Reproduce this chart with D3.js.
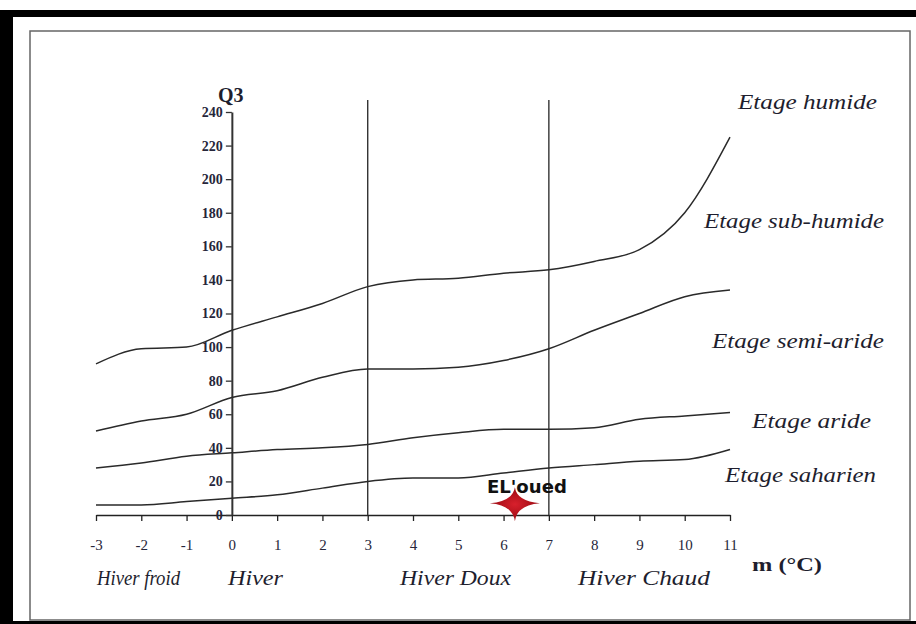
<!DOCTYPE html>
<html>
<head>
<meta charset="utf-8">
<script src="https://cdn.jsdelivr.net/npm/d3@7"></script>
<style>
  body { margin: 0; background: #fff; }
  svg { display: block; }
</style>
</head>
<body>
<svg id="drawing_region"></svg>
<script>
// m (°C) values where the boundary curves are read
const mValues = [-3, -2, -1, 0, 1, 2, 3, 4, 5, 6, 7, 8, 9, 10, 11];

// Q3 of each boundary curve (top to bottom)
const humideLimit    = [90, 99, 100, 110, 118, 126, 136, 140, 141, 144, 146, 151, 158, 180, 225];
const subHumideLimit = [50, 56, 60, 70, 74, 82, 87, 87, 88, 92, 99, 110, 120, 130, 134];
const semiArideLimit = [28, 31, 35, 37, 39, 40, 42, 46, 49, 51, 51, 52, 57, 59, 61];
const arideLimit     = [6, 6, 8, 10, 12, 16, 20, 22, 22, 25, 28, 30, 32, 33, 39];

const yTicks = [0, 20, 40, 60, 80, 100, 120, 140, 160, 180, 200, 220, 240];
const xTicks = [-3, -2, -1, 0, 1, 2, 3, 4, 5, 6, 7, 8, 9, 10, 11];
const winterLimits = [3, 7];

const etageLabels = ["Etage humide", "Etage sub-humide", "Etage semi-aride", "Etage aride", "Etage saharien"];
const hiverLabels = ["Hiver froid", "Hiver", "Hiver Doux", "Hiver Chaud"];

// station
const station = { name: "EL'oued", m: 6.25, q3: 7 };

const width = 916, height = 624;
const svg = d3.select('#drawing_region')
    .attr('width', width)
    .attr('height', height);

// frames
svg.append('rect').attr('x', 0).attr('y', 10).attr('width', 13).attr('height', 614).attr('fill', '#000');
svg.append('rect').attr('x', 0).attr('y', 10).attr('width', width).attr('height', 7).attr('fill', '#000');
svg.append('rect').attr('x', 0).attr('y', 621).attr('width', width).attr('height', 3).attr('fill', '#000');
svg.append('rect').attr('x', 30).attr('y', 31).attr('width', 880).attr('height', 589)
    .attr('fill', 'none').attr('stroke', '#666').attr('stroke-width', 1.5);

const xscale = d3.scaleLinear().domain([-3, 11]).range([96, 730]);
const yscale = d3.scaleLinear().domain([0, 240]).range([515, 112]);

const serif = "Liberation Serif, Times New Roman, serif";
const tickColor = '#26263a';

// x axis
const xaxis = d3.axisBottom(xscale).tickValues(xTicks).tickSize(6).tickSizeOuter(0)
    .tickPadding(18).tickFormat(d => String(d));
const xg = svg.append('g').attr('transform', `translate(0, ${yscale(0)})`).call(xaxis);
xg.attr('font-size', 15).attr('font-family', serif);
xg.select('.domain').attr('stroke', '#222').attr('stroke-width', 1.5);
xg.selectAll('.tick line').attr('stroke', '#222').attr('stroke-width', 1.3);
xg.selectAll('.tick text').style('font-size', '15px').style('font-family', serif).attr('fill', tickColor);

// y axis
const yaxis = d3.axisLeft(yscale).tickValues(yTicks).tickSize(6).tickSizeOuter(0)
    .tickPadding(3).tickFormat(d => String(d));
const yg = svg.append('g').attr('transform', `translate(${xscale(0)}, 0)`).call(yaxis);
yg.attr('font-size', 14).attr('font-family', serif);
yg.select('.domain').attr('stroke', '#333').attr('stroke-width', 2);
yg.selectAll('.tick line').attr('stroke', '#333').attr('stroke-width', 1.3);
yg.selectAll('.tick text').style('font-size', '14px').style('font-family', serif)
    .attr('font-weight', 'bold').attr('fill', tickColor);

// winter type separators
svg.selectAll('.sep').data(winterLimits).enter().append('line')
    .attr('x1', d => xscale(d)).attr('x2', d => xscale(d))
    .attr('y1', 100).attr('y2', yscale(0))
    .attr('stroke', '#333').attr('stroke-width', 1.4);

// boundary curves
const line = d3.line()
    .x((d, i) => xscale(mValues[i]))
    .y(d => yscale(d))
    .curve(d3.curveMonotoneX);

[humideLimit, subHumideLimit, semiArideLimit, arideLimit].forEach(series => {
    svg.append('path')
        .attr('d', line(series))
        .attr('fill', 'none')
        .attr('stroke', '#2a2a2a')
        .attr('stroke-width', 1.5);
});

// axis titles
svg.append('text').attr('x', 218).attr('y', 102).text('Q3')
    .attr('font-family', serif).attr('font-size', 20).attr('font-weight', 'bold').attr('fill', '#1e1e2e');
svg.append('text').attr('x', 752).attr('y', 571).text('m (°C)')
    .attr('font-family', serif).attr('font-size', 18).attr('font-weight', 'bold').attr('fill', '#1e1e2e')
    .attr('textLength', 70).attr('lengthAdjust', 'spacingAndGlyphs');

// étage labels
const etagePos = [
    { x: 738, y: 109, w: 139 },
    { x: 704, y: 228, w: 180 },
    { x: 712, y: 348, w: 172 },
    { x: 752, y: 428, w: 119 },
    { x: 725, y: 482, w: 151 }
];
etageLabels.forEach((t, i) => {
    svg.append('text').attr('x', etagePos[i].x).attr('y', etagePos[i].y).text(t)
        .attr('font-family', serif).attr('font-style', 'italic').attr('font-size', 20)
        .attr('fill', '#1e1e2e')
        .attr('textLength', etagePos[i].w).attr('lengthAdjust', 'spacingAndGlyphs');
});

// winter labels
const hiverPos = [
    { x: 97, w: 83 },
    { x: 228, w: 55 },
    { x: 400, w: 111 },
    { x: 578, w: 132 }
];
hiverLabels.forEach((t, i) => {
    svg.append('text').attr('x', hiverPos[i].x).attr('y', 585).text(t)
        .attr('font-family', serif).attr('font-style', 'italic').attr('font-size', 20)
        .attr('fill', '#1e1e2e')
        .attr('textLength', hiverPos[i].w).attr('lengthAdjust', 'spacingAndGlyphs');
});

// station star
const sx = xscale(station.m), sy = yscale(station.q3);
const grad = svg.append('defs').append('radialGradient').attr('id', 'starGrad');
grad.append('stop').attr('offset', '0%').attr('stop-color', '#d8202c');
grad.append('stop').attr('offset', '100%').attr('stop-color', '#9a0a12');
const star = d3.path();
const ax = 25, up = 16, down = 18, k = 2;
star.moveTo(sx - ax, sy);
star.quadraticCurveTo(sx - k, sy - k, sx, sy - up);
star.quadraticCurveTo(sx + k, sy - k, sx + ax, sy);
star.quadraticCurveTo(sx + k, sy + k, sx, sy + down);
star.quadraticCurveTo(sx - k, sy + k, sx - ax, sy);
star.closePath();
svg.append('path').attr('d', star.toString()).attr('fill', 'url(#starGrad)');

svg.append('text').attr('x', sx - 28).attr('y', 493).text(station.name)
    .attr('font-family', "DejaVu Sans, sans-serif").attr('font-weight', 'bold')
    .attr('font-size', 17).attr('fill', '#111')
    .attr('textLength', 80).attr('lengthAdjust', 'spacingAndGlyphs');
</script>
</body>
</html>
